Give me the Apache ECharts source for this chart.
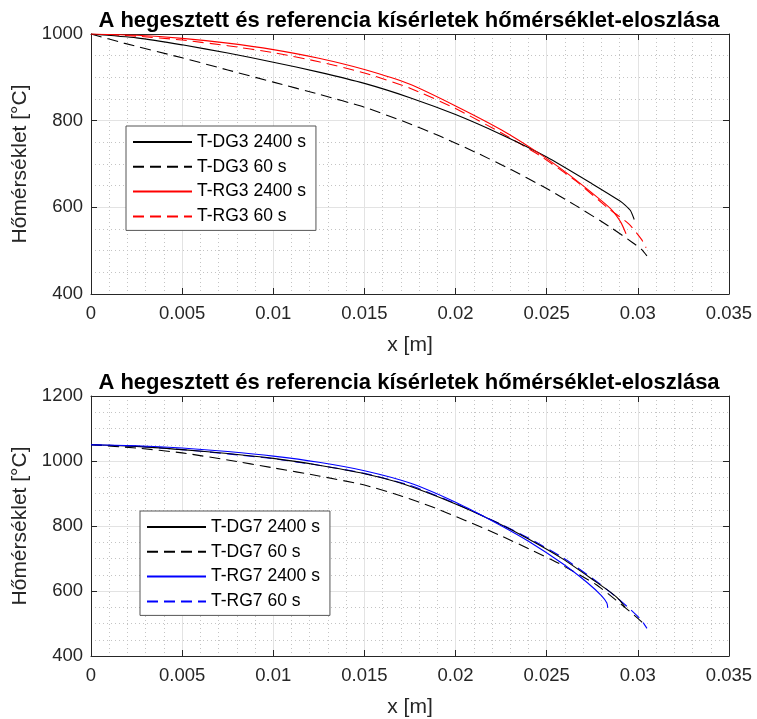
<!DOCTYPE html>
<html>
<head>
<meta charset="utf-8">
<script src="https://cdn.jsdelivr.net/npm/echarts@6/dist/echarts.min.js"></script>
<style>
html,body{margin:0;padding:0;background:#fff;}
#chart{width:757px;height:719px;}
</style>
</head>
<body>
<div id="chart"></div>
<script>
// ---------- data ----------
const titleText = 'A hegesztett és referencia kísérletek hőmérséklet-eloszlása';
const xTickLabels = ['0','0.005','0.01','0.015','0.02','0.025','0.03','0.035'];
const yTicksTop = [400, 600, 800, 1000];
const yTicksBottom = [400, 600, 800, 1000, 1200];

// top plot (3)
const dg3_2400_x = [0, 0.0025, 0.005, 0.0075, 0.01, 0.0125, 0.015, 0.0175, 0.02, 0.0225, 0.025, 0.0275, 0.029, 0.0293, 0.0296, 0.0298];
const dg3_2400_y = [1000, 991, 975, 956, 935, 912, 886, 853, 814, 768, 716, 654, 615, 605, 592, 572];
const dg3_60_x = [0, 0.0018, 0.005, 0.0075, 0.01, 0.0125, 0.015, 0.0171, 0.0191, 0.0211, 0.023, 0.0248, 0.0266, 0.0285, 0.0297, 0.0302, 0.0305];
const dg3_60_y = [1000, 979, 945, 917, 889, 861, 831, 799, 765, 727, 688, 648, 604, 554, 519, 503, 488];
const rg3_2400_x = [0, 0.0025, 0.005, 0.0075, 0.01, 0.0125, 0.015, 0.0175, 0.02, 0.0225, 0.0246, 0.0262, 0.0279, 0.0285, 0.0288, 0.0291, 0.02935];
const rg3_2400_y = [1000, 997, 990, 979, 964, 944, 918, 884, 834, 779, 724, 676, 619, 597, 582, 563, 539];
const rg3_60_x = [0, 0.0025, 0.005, 0.0075, 0.01, 0.0125, 0.015, 0.0175, 0.02, 0.0225, 0.0246, 0.0266, 0.0284, 0.0295, 0.0302, 0.03045];
const rg3_60_y = [1000, 995, 986, 973, 957, 936, 910, 875, 828, 772, 720, 661, 597, 562, 526, 507];

// bottom plot (7)
const dg7_2400_x = [0, 0.0025, 0.005, 0.0075, 0.01, 0.0125, 0.015, 0.0171, 0.02, 0.0222, 0.024, 0.0259, 0.0277, 0.0286, 0.029, 0.0293];
const dg7_2400_y = [1050, 1045, 1035, 1023, 1008, 987, 961, 930, 868, 812, 760, 698, 628, 592, 572, 550];
const dg7_60_x = [0, 0.0025, 0.005, 0.0075, 0.01, 0.0125, 0.015, 0.0171, 0.0187, 0.0205, 0.0224, 0.0242, 0.0257, 0.0277, 0.0288, 0.03, 0.0303];
const dg7_60_y = [1050, 1040, 1025, 1003, 979, 954, 926, 891, 859, 818, 772, 725, 684, 620, 572, 516, 500];
const rg7_2400_x = [0, 0.0025, 0.005, 0.0075, 0.01, 0.0125, 0.015, 0.0175, 0.02, 0.0222, 0.024, 0.0259, 0.0272, 0.028, 0.0283, 0.02835];
const rg7_2400_y = [1050, 1047, 1040, 1029, 1015, 996, 970, 932, 873, 810, 753, 683, 627, 586, 563, 548];
const rg7_60_x = [0, 0.0025, 0.005, 0.0075, 0.01, 0.0125, 0.015, 0.0175, 0.02, 0.0222, 0.024, 0.0259, 0.0277, 0.0288, 0.0296, 0.0301, 0.0303, 0.0305];
const rg7_60_y = [1050, 1045, 1035, 1022, 1007, 987, 962, 925, 869, 813, 763, 702, 631, 582, 543, 516, 502, 485];

// ---------- chart ----------
const pairs = (xs, ys) => xs.map((x, i) => [x, ys[i]]);
const FONT = '"Liberation Sans", Arial, Helvetica, sans-serif';
const AX = '#262626';
const grids = [
  { left: 91, width: 638, top: 34, height: 260 },
  { left: 91, width: 638, top: 396, height: 261 }
];

function xAxes(gi) {
  const base = {
    type: 'value', gridIndex: gi, min: 0, max: 0.035, interval: 0.005,
    axisLine: { show: true, onZero: false, lineStyle: { color: AX, width: 1 } },
    axisTick: { show: true, inside: true, length: 6, lineStyle: { color: AX } },
    minorTick: { show: false, splitNumber: 5 }
  };
  return [
    Object.assign({}, base, {
      position: 'bottom',
      axisLabel: { color: AX, fontSize: 18.5, fontFamily: FONT, margin: 10,
        formatter: v => xTickLabels[Math.round(v / 0.005)] },
      name: 'x [m]', nameLocation: 'middle', nameGap: 41,
      nameTextStyle: { color: AX, fontSize: 21, fontFamily: FONT },
      splitLine: { show: true, lineStyle: { color: '#e3e3e3', width: 1 } },
      minorSplitLine: { show: true, lineStyle: { color: '#c4c4c4', width: 1, type: [1, 3] } }
    }),
    Object.assign({}, base, {
      position: 'top', axisLabel: { show: false }, splitLine: { show: false }
    })
  ];
}
function yAxes(gi, ticks) {
  const base = {
    type: 'value', gridIndex: gi, min: ticks[0], max: ticks[ticks.length - 1], interval: 200,
    axisLine: { show: true, onZero: false, lineStyle: { color: AX, width: 1 } },
    axisTick: { show: true, inside: true, length: 6, lineStyle: { color: AX } },
    minorTick: { show: false, splitNumber: 4 }
  };
  return [
    Object.assign({}, base, {
      position: 'left',
      axisLabel: { color: AX, fontSize: 18.5, fontFamily: FONT, margin: 8,
        formatter: v => String(ticks[Math.round((v - ticks[0]) / 200)]) },
      name: 'Hőmérséklet [°C]', nameLocation: 'middle', nameGap: 52,
      nameTextStyle: { color: AX, fontSize: 21, fontFamily: FONT },
      splitLine: { show: true, lineStyle: { color: '#e3e3e3', width: 1 } },
      minorSplitLine: { show: true, lineStyle: { color: '#c4c4c4', width: 1, type: [1, 3] } }
    }),
    Object.assign({}, base, {
      position: 'right', axisLabel: { show: false }, splitLine: { show: false }
    })
  ];
}

function line(name, xs, ys, color, dashed, xi, yi) {
  return {
    type: 'line', name: name, xAxisIndex: xi, yAxisIndex: yi,
    data: pairs(xs, ys), showSymbol: false, symbol: 'none',
    smooth: 0.2,
    lineStyle: { color: color, width: 1.1, type: dashed ? [11, 6] : 'solid' },
    itemStyle: { color: color },
    silent: true, animation: false, z: dashed ? 3 : 4
  };
}

function legendFor(left, top, names) {
  return {
    show: true, orient: 'vertical', left: left, top: top,
    itemWidth: 59, itemHeight: 14, itemGap: 6.8,
    padding: [7, 10, 5, 6], backgroundColor: '#ffffff', borderColor: '#555555', borderWidth: 1,
    textStyle: { color: '#000000', fontSize: 17.5, fontFamily: FONT },
    itemStyle: { opacity: 0 },
    selectedMode: false,
    data: names
  };
}

const option = {
  animation: false,
  backgroundColor: '#fff',
  title: [
    { text: titleText, left: 404, top: 5, textAlign: 'center',
      textStyle: { fontSize: 22, fontWeight: 'bold', color: '#000', fontFamily: FONT } },
    { text: titleText, left: 404, top: 367, textAlign: 'center',
      textStyle: { fontSize: 22, fontWeight: 'bold', color: '#000', fontFamily: FONT } }
  ],
  grid: grids,
  xAxis: [...xAxes(0), ...xAxes(1)],
  yAxis: [...yAxes(0, yTicksTop), ...yAxes(1, yTicksBottom)],
  legend: [
    legendFor(126, 126, ['T-DG3 2400 s', 'T-DG3 60 s', 'T-RG3 2400 s', 'T-RG3 60 s']),
    legendFor(140, 511, ['T-DG7 2400 s', 'T-DG7 60 s', 'T-RG7 2400 s', 'T-RG7 60 s'])
  ],
  series: [
    line('T-DG3 2400 s', dg3_2400_x, dg3_2400_y, '#000000', false, 0, 0),
    line('T-DG3 60 s', dg3_60_x, dg3_60_y, '#000000', true, 0, 0),
    line('T-RG3 2400 s', rg3_2400_x, rg3_2400_y, '#ff0000', false, 0, 0),
    line('T-RG3 60 s', rg3_60_x, rg3_60_y, '#ff0000', true, 0, 0),
    line('T-DG7 2400 s', dg7_2400_x, dg7_2400_y, '#000000', false, 2, 2),
    line('T-DG7 60 s', dg7_60_x, dg7_60_y, '#000000', true, 2, 2),
    line('T-RG7 2400 s', rg7_2400_x, rg7_2400_y, '#0000ff', false, 2, 2),
    line('T-RG7 60 s', rg7_60_x, rg7_60_y, '#0000ff', true, 2, 2)
  ]
};

const chart = echarts.init(document.getElementById('chart'), null, { renderer: 'canvas' });
chart.setOption(option);
</script>
</body>
</html>
